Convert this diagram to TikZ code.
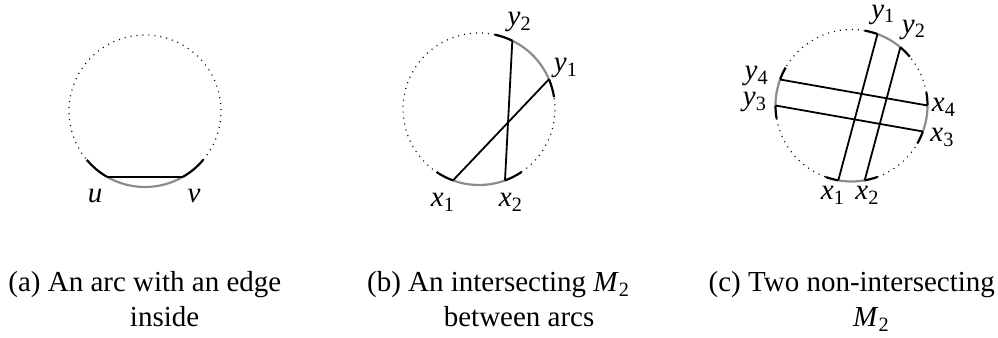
\documentclass[tikz,border=0pt]{standalone}
\usepackage{fontspec}
\setmainfont{Liberation Serif}
\usetikzlibrary{calc}
\newcommand{\vlab}[2]{\textit{#1}\textsubscript{#2}}
\begin{document}
\begin{tikzpicture}[x=0.5pt, y=0.5pt, every node/.style={font=\fontsize{14.5}{17.5}\selectfont, inner sep=0pt}, rim/.style={dash pattern=on 0.5pt off 2.5pt, line width=0.6pt}, endarc/.style={line width=1.1pt}, midarc/.style={line width=1.1pt, black!45}, chord/.style={line width=0.9pt}, vname/.style={anchor=base}, capt/.style={anchor=base west}]
\useasboundingbox (0,0) rectangle (998,338);
% (a)
\coordinate (ca) at (145,227);
\coordinate (u) at ($(ca)+(-120:76)$);
\coordinate (v) at ($(ca)+(-60:76)$);
\draw[rim] ($(ca)+(-40:76)$) arc (-40:220:76);
\draw[endarc] ($(ca)+(-140:76)$) arc (-140:-120:76);
\draw[midarc] (u) arc (-120:-60:76);
\draw[endarc] (v) arc (-60:-40:76);
\draw[chord] (u) -- (v);
\node[vname] (lu) at (95,135) {\textit{u}};
\node[vname] (lv) at (194,135) {\textit{v}};
% (b)
\coordinate (cb) at (479,229);
\coordinate (bx1) at ($(cb)+(-110:76)$);
\coordinate (bx2) at ($(cb)+(-70:76)$);
\coordinate (by1) at ($(cb)+(23:76)$);
\coordinate (by2) at ($(cb)+(64:76)$);
\draw[rim] ($(cb)+(-56:76)$) arc (-56:9:76);
\draw[rim] ($(cb)+(78:76)$) arc (78:236:76);
\draw[endarc] ($(cb)+(-124:76)$) arc (-124:-110:76);
\draw[midarc] (bx1) arc (-110:-70:76);
\draw[endarc] (bx2) arc (-70:-56:76);
\draw[endarc] ($(cb)+(9:76)$) arc (9:23:76);
\draw[midarc] (by1) arc (23:64:76);
\draw[endarc] (by2) arc (64:78:76);
\draw[chord] (bx1) -- (by1);
\draw[chord] (bx2) -- (by2);
\node[vname] (lbx1) at (443,131) {\vlab{x}{1}};
\node[vname] (lbx2) at (511,131) {\vlab{x}{2}};
\node[vname] (lby1) at (566,266.3) {\vlab{y}{1}};
\node[vname] (lby2) at (519.7,312) {\vlab{y}{2}};
% (c)
\coordinate (cc) at (851.5,232.5);
\coordinate (cx1) at ($(cc)+(-100:76)$);
\coordinate (cx2) at ($(cc)+(-80:76)$);
\coordinate (cx3) at ($(cc)+(-20:76)$);
\coordinate (cx4) at ($(cc)+(0:76)$);
\coordinate (cy1) at ($(cc)+(70:76)$);
\coordinate (cy2) at ($(cc)+(50:76)$);
\coordinate (cy3) at ($(cc)+(180:76)$);
\coordinate (cy4) at ($(cc)+(160:76)$);
\draw[rim] ($(cc)+(-70:76)$) arc (-70:-30:76);
\draw[rim] ($(cc)+(10:76)$) arc (10:40:76);
\draw[rim] ($(cc)+(80:76)$) arc (80:150:76);
\draw[rim] ($(cc)+(190:76)$) arc (190:250:76);
\draw[endarc] ($(cc)+(-110:76)$) arc (-110:-100:76);
\draw[midarc] (cx1) arc (-100:-80:76);
\draw[endarc] (cx2) arc (-80:-70:76);
\draw[endarc] ($(cc)+(-30:76)$) arc (-30:-20:76);
\draw[midarc] (cx3) arc (-20:0:76);
\draw[endarc] (cx4) arc (0:10:76);
\draw[endarc] ($(cc)+(40:76)$) arc (40:50:76);
\draw[midarc] (cy2) arc (50:70:76);
\draw[endarc] (cy1) arc (70:80:76);
\draw[endarc] ($(cc)+(150:76)$) arc (150:160:76);
\draw[midarc] (cy4) arc (160:180:76);
\draw[endarc] (cy3) arc (180:190:76);
\draw[chord] (cx1) -- (cy1);
\draw[chord] (cx2) -- (cy2);
\draw[chord] (cx3) -- (cy3);
\draw[chord] (cx4) -- (cy4);
\node[vname] (lcx1) at (833,138) {\vlab{x}{1}};
\node[vname] (lcx2) at (867.5,138) {\vlab{x}{2}};
\node[vname] (lcx3) at (942.5,196.3) {\vlab{x}{3}};
\node[vname] (lcx4) at (944,226.3) {\vlab{x}{4}};
\node[vname] (lcy1) at (883.3,319.5) {\vlab{y}{1}};
\node[vname] (lcy2) at (914,304.7) {\vlab{y}{2}};
\node[vname] (lcy3) at (755,232) {\vlab{y}{3}};
\node[vname] (lcy4) at (756.7,258) {\vlab{y}{4}};
% captions
\node[capt] (capa) at (8,46.3) {(a) \begin{tabular}[t]{@{}c@{}}An arc with an edge\\inside\end{tabular}};
\node[capt] (capb) at (366.7,46.3) {(b) \begin{tabular}[t]{@{}c@{}}An intersecting \vlab{M}{2}\\between arcs\end{tabular}};
\node[capt] (capc) at (708.3,46.3) {(c) \begin{tabular}[t]{@{}c@{}}Two non-intersecting\\\vlab{M}{2}\end{tabular}};
\end{tikzpicture}
\end{document}
